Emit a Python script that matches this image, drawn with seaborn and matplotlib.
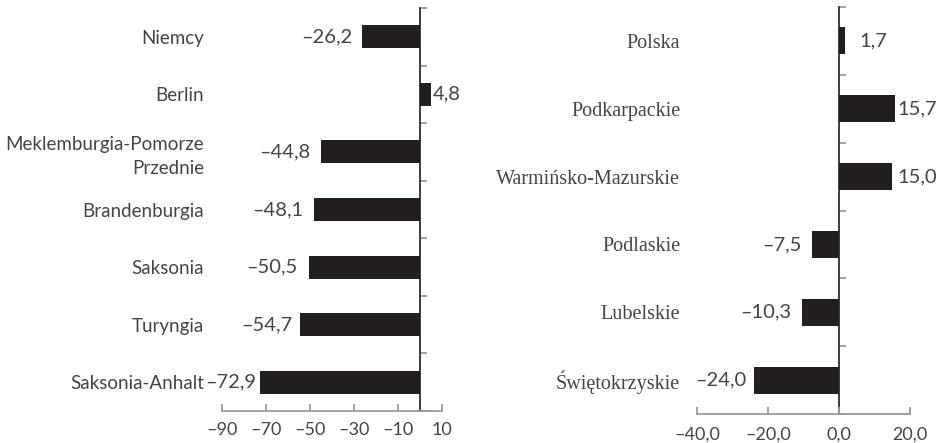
import matplotlib
matplotlib.use("Agg")
import matplotlib.pyplot as plt
import seaborn as sns
import pandas as pd

# ---- data ----
de_regions = ["Niemcy", "Berlin", "Meklemburgia-Pomorze\nPrzednie", "Brandenburgia",
              "Saksonia", "Turyngia", "Saksonia-Anhalt"]
de_values = [-26.2, 4.8, -44.8, -48.1, -50.5, -54.7, -72.9]
de_ticks = [-90, -70, -50, -30, -10, 10]

pl_regions = ["Polska", "Podkarpackie", "Warmińsko-Mazurskie", "Podlaskie",
              "Lubelskie", "Świętokrzyskie"]
pl_values = [1.7, 15.7, 15.0, -7.5, -10.3, -24.0]
pl_ticks = [-40, -20, 0, 20]

# label gaps (points) between bar end and value label — styling only
de_gaps = [7, 1.5, 8, 8, 8.5, 5.5, 2.5]
pl_gaps = [10, 2, 4, 8, 8, 5]

sns.set_theme(style="white")
plt.rcParams["font.family"] = ["Lato", "DejaVu Sans"]

BAR = "#231f20"
TXT = "#444444"
AX = "#9a9a9a"


def fmt_num(v, dec):
    s = f"{v:.{dec}f}".replace(".", ",")
    return s.replace("-", "\u2013")


def panel(ax, cats, vals, ticks, dec, cat_font, cat_size, cat_pad, tick_pad, gaps,
          val_size, tick_size):
    df = pd.DataFrame({"cat": cats, "val": vals})
    sns.barplot(data=df, x="val", y="cat", orient="h", color=BAR, saturation=1,
                width=0.4, ax=ax, edgecolor="none")
    xmin, xmax = ticks[0], ticks[-1]
    ax.set_xlim(xmin, xmax)
    n = len(cats)
    ax.set_ylim(n - 0.5, -0.5)
    ax.set_xlabel("")
    ax.set_ylabel("")
    for s in ["top", "right", "left"]:
        ax.spines[s].set_visible(False)
    ax.spines["bottom"].set_color(AX)
    ax.spines["bottom"].set_linewidth(1.3)
    ax.set_xticks(ticks)
    ax.set_xticklabels([fmt_num(t, dec) for t in ticks], fontsize=tick_size, color=TXT)
    ax.tick_params(axis="x", direction="in", length=5, width=1.3, color=AX, pad=tick_pad,
                   bottom=True)
    ax.set_yticks(range(n))
    ax.set_yticklabels(cats, fontsize=cat_size, color=TXT, family=cat_font, linespacing=1.45)
    ax.tick_params(axis="y", length=0, pad=cat_pad, left=False)
    # vertical axis at zero
    loc = (0 - xmin) / (xmax - xmin)
    sec = ax.secondary_yaxis(loc)
    sec.set_yticks([i - 0.5 for i in range(n + 1)])
    sec.set_yticklabels([])
    sec.tick_params(axis="y", direction="out", length=5, width=1.3, color=AX)
    sec.spines["left"].set_color(AX)
    sec.spines["left"].set_linewidth(1.3)
    for i, v in enumerate(vals):
        if v < 0:
            ax.annotate(fmt_num(v, 1), xy=(v, i), xytext=(-gaps[i], 0),
                        textcoords="offset points", ha="right", va="center",
                        fontsize=val_size, color=TXT)
        else:
            ax.annotate(fmt_num(v, 1), xy=(v, i), xytext=(gaps[i], 0),
                        textcoords="offset points", ha="left", va="center",
                        fontsize=val_size, color=TXT)


fig = plt.figure(figsize=(9.38, 4.43), dpi=100)
ax1 = fig.add_axes([222 / 938, 32 / 443, 220 / 938, 403 / 443])
ax2 = fig.add_axes([697 / 938, 29 / 443, 213 / 938, 407 / 443])

panel(ax1, de_regions, de_values, de_ticks, 0, ["Lato", "DejaVu Sans"], 13.5, 13, 8,
      de_gaps, 14.5, 13)
panel(ax2, pl_regions, pl_values, pl_ticks, 1, ["Liberation Serif", "DejaVu Serif"], 14.5, 12,
      9, pl_gaps, 14.5, 13)

fig.savefig("out.png", dpi=100, facecolor="white")
